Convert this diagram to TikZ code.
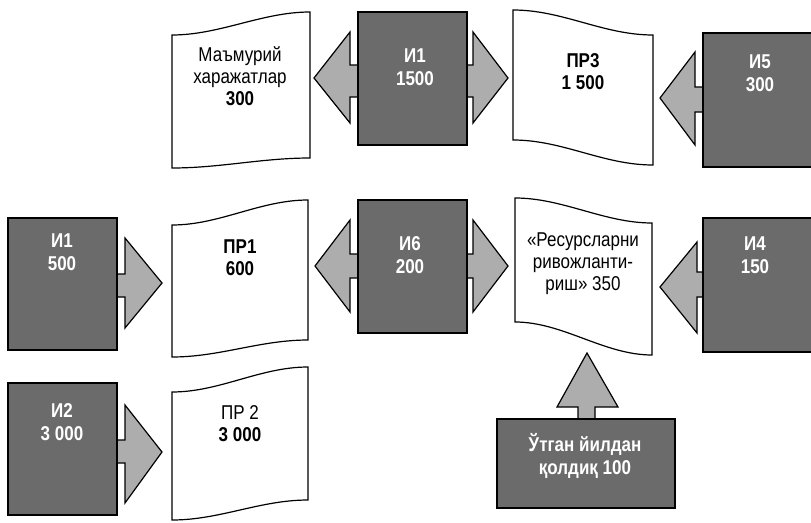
\documentclass[tikz,border=0pt]{standalone}
\usepackage{fontspec}
\setmainfont{Liberation Sans}[FakeStretch=0.85]
\begin{document}
\begin{tikzpicture}[x=1pt,y=-1pt,
  box/.style={draw=black,line width=1.2pt,fill=black!58,inner sep=0pt},
  boxtext/.style={align=center,text=white,font=\fontsize{20}{23}\selectfont\bfseries},
  head/.style={draw=black,line width=1.2pt,fill=black!32,line join=miter},
  doc/.style={draw=black,line width=1.2pt,fill=white},
  doctext/.style={align=center,font=\fontsize{20}{22}\selectfont}]
\useasboundingbox (0,0) rectangle (811,522);

% arrow heads (under the boxes)
\draw[head] (413,65) -- (350,65) -- (350,32) -- (314,78) -- (350,123) -- (350,97) -- (473,97) -- (473,123) -- (508,78) -- (473,32) -- (473,65) -- cycle;
\draw[head] (413,254) -- (350,254) -- (350,220) -- (315,266) -- (350,312) -- (350,278) -- (473,278) -- (473,312) -- (508,266) -- (473,220) -- (473,254) -- cycle;
\draw[head] (720,87) -- (695,87) -- (695,52) -- (660,98) -- (695,145) -- (695,112) -- (720,112) -- cycle;
\draw[head] (720,272) -- (697,272) -- (697,242) -- (660,287) -- (697,333) -- (697,297) -- (720,297) -- cycle;
\draw[head] (100,274) -- (125,274) -- (125,238) -- (162,283) -- (125,328) -- (125,297) -- (100,297) -- cycle;
\draw[head] (100,440) -- (125,440) -- (125,405) -- (162,452) -- (125,503) -- (125,463) -- (100,463) -- cycle;
\draw[head] (578,430) -- (578,407) -- (557,407) -- (587,353) -- (618,407) -- (595,407) -- (595,430) -- cycle;

% boxes
\node[box,minimum width=109pt,minimum height=133pt] (i1t) at (412.5,78.5) {};
\node[box,minimum width=110pt,minimum height=134pt] (i5) at (758,100) {};
\node[box,minimum width=109pt,minimum height=132pt] (i1l) at (62.5,284) {};
\node[box,minimum width=109pt,minimum height=133pt] (i6) at (412.5,266.5) {};
\node[box,minimum width=110pt,minimum height=134pt] (i4) at (758,285) {};
\node[box,minimum width=109pt,minimum height=132pt] (i2) at (62.5,449) {};
\node[box,minimum width=178pt,minimum height=89pt] (utg) at (586,463.5) {};

\node[boxtext] (i1tl) at (415,67) {И1\\1500};
\node[boxtext] (i5l) at (760,73) {И5\\300};
\node[boxtext] (i1ll) at (62,252) {И1\\500};
\node[boxtext] (i6l) at (410,255) {И6\\200};
\node[boxtext] (i4l) at (755,255) {И4\\150};
\node[boxtext] (i2l) at (62,422) {И2\\3 000};
\node[boxtext] (utgl) at (585,456) {Ўтган йилдан\\қолдиқ 100};

% documents
\draw[doc] (172,35) .. controls (220,35) and (262,12) .. (310,12) -- (310,158) .. controls (262,158) and (220,168) .. (172,168) -- cycle;
\draw[doc] (513,10) .. controls (563,10) and (603,35) .. (653,35) -- (653,165) .. controls (603,165) and (563,140) .. (513,140) -- cycle;
\draw[doc] (172,225) .. controls (220,225) and (260,200) .. (308,200) -- (308,340) .. controls (260,340) and (220,357) .. (172,357) -- cycle;
\draw[doc] (515,198) .. controls (563,198) and (604,223) .. (652,223) -- (652,355) .. controls (604,355) and (563,322) .. (515,322) -- cycle;
\draw[doc] (172,392) .. controls (220,392) and (260,367) .. (308,367) -- (308,500) .. controls (260,500) and (220,520) .. (172,520) -- cycle;

\node[doctext] (adm) at (240,76) {Маъмурий\\харажатлар\\\textbf{300}};
\node[doctext] (pr3) at (583,72) {\textbf{ПР3}\\\textbf{1 500}};
\node[doctext] (pr1) at (240,258) {\textbf{ПР1}\\\textbf{600}};
\node[doctext] (res) at (583,264) {«Ресурсларни\\ривожланти-\\риш» 350};
\node[doctext] (pr2) at (240,424) {ПР 2\\\textbf{3 000}};
\end{tikzpicture}
\end{document}
